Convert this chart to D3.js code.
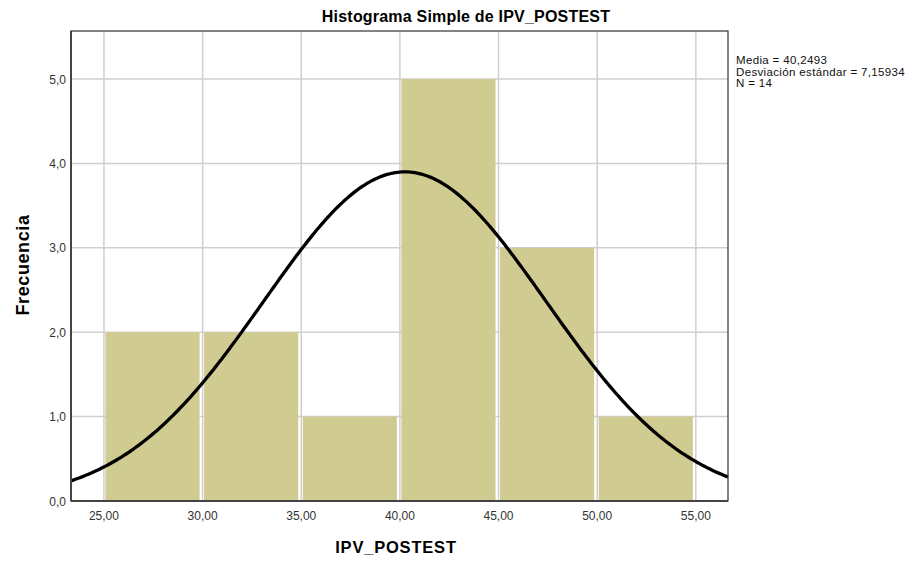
<!DOCTYPE html>
<html>
<head>
<meta charset="utf-8">
<script src="https://cdn.jsdelivr.net/npm/d3@7"></script>
<style>
  body { margin: 0; background: #fff; }
  svg text { font-family: "Liberation Sans", Arial, sans-serif; }
</style>
</head>
<body>
<svg id="chart" width="912" height="561"></svg>
<script>
// histogram bins (lower / upper edge) and counts
var binStart = [25, 30, 35, 40, 45, 50];
var binEnd = [30, 35, 40, 45, 50, 55];
var counts = [2, 2, 1, 5, 3, 1];

var xTicks = [25, 30, 35, 40, 45, 50, 55];
var yTicks = [0, 1, 2, 3, 4, 5];

// stats shown in the legend, used for the fitted normal curve
var media = 40.2493;
var desv = 7.15934;
var n = 14;
var statLines = ["Media = 40,2493", "Desviación estándar = 7,15934", "N = 14"];

var svg = d3.select("#chart");
var pLeft = 71, pRight = 728, pTop = 31, pBottom = 501;

var x = d3.scaleLinear().domain([23.33, 56.63]).range([pLeft, pRight]);
var y = d3.scaleLinear().domain([0, 5.57]).range([pBottom, pTop]);

var fmtX = function(d){ return d3.format(".2f")(d).replace(".", ","); };
var fmtY = function(d){ return d3.format(".1f")(d).replace(".", ","); };

// grid
svg.append("g").selectAll("line").data(xTicks).enter().append("line")
  .attr("x1", function(d){ return x(d); }).attr("x2", function(d){ return x(d); })
  .attr("y1", pTop).attr("y2", pBottom)
  .attr("stroke", "#cfcfcf").attr("stroke-width", 1.5);
svg.append("g").selectAll("line").data(yTicks.slice(1)).enter().append("line")
  .attr("x1", pLeft).attr("x2", pRight)
  .attr("y1", function(d){ return y(d); }).attr("y2", function(d){ return y(d); })
  .attr("stroke", "#cfcfcf").attr("stroke-width", 1.5);

// bars
svg.append("g").selectAll("rect").data(counts).enter().append("rect")
  .attr("x", function(d, i){ return x(binStart[i]) + 1.5; })
  .attr("width", function(d, i){ return x(binEnd[i]) - x(binStart[i]) - 4.5; })
  .attr("y", function(d){ return y(d); })
  .attr("height", function(d){ return y(0) - y(d); })
  .attr("fill", "#d0cb90");

// normal curve
var xs = d3.range(0, 301).map(function(i){ return 23.33 + i * (56.63 - 23.33) / 300; });
var w = binEnd[0] - binStart[0];
var dens = function(v){
  return n * w * Math.exp(-0.5 * Math.pow((v - media) / desv, 2)) / (desv * Math.sqrt(2 * Math.PI));
};
svg.append("path").datum(xs)
  .attr("d", d3.line().x(function(d){ return x(d); }).y(function(d){ return y(dens(d)); }))
  .attr("fill", "none").attr("stroke", "#000").attr("stroke-width", 3.3);

// frame
svg.append("rect").attr("x", pLeft).attr("y", pTop)
  .attr("width", pRight - pLeft).attr("height", pBottom - pTop)
  .attr("fill", "none").attr("stroke", "#333").attr("stroke-width", 1.2);
svg.append("line").attr("x1", pLeft).attr("x2", pLeft).attr("y1", pTop).attr("y2", pBottom)
  .attr("stroke", "#444").attr("stroke-width", 2);
svg.append("line").attr("x1", pLeft).attr("x2", pRight).attr("y1", pBottom).attr("y2", pBottom)
  .attr("stroke", "#444").attr("stroke-width", 2);

// tick labels
svg.append("g").selectAll("text").data(yTicks).enter().append("text")
  .attr("x", pLeft - 5).attr("y", function(d){ return y(d) + 4.5; })
  .attr("text-anchor", "end").attr("font-size", 12).attr("fill", "#333")
  .text(fmtY);
svg.append("g").selectAll("text").data(xTicks).enter().append("text")
  .attr("x", function(d){ return x(d); }).attr("y", 520)
  .attr("text-anchor", "middle").attr("font-size", 12).attr("fill", "#333")
  .text(fmtX);

// titles
svg.append("text").attr("x", 466).attr("y", 21.5).attr("text-anchor", "middle")
  .attr("font-size", 16).attr("font-weight", "bold").attr("letter-spacing", 0.2)
  .text("Histograma Simple de IPV_POSTEST");
svg.append("text").attr("x", 396).attr("y", 553).attr("text-anchor", "middle")
  .attr("font-size", 16.5).attr("font-weight", "bold").attr("letter-spacing", 0.8)
  .text("IPV_POSTEST");
svg.append("text").attr("transform", "translate(28.5,265) rotate(-90)").attr("text-anchor", "middle")
  .attr("font-size", 18).attr("font-weight", "bold").attr("letter-spacing", 0.6)
  .text("Frecuencia");

// legend stats
svg.append("g").selectAll("text").data(statLines).enter().append("text")
  .attr("x", 736).attr("y", function(d, i){ return 64 + i * 11.5; })
  .attr("font-size", 11.5).attr("letter-spacing", 0.35).attr("fill", "#111")
  .text(function(d){ return d; });
</script>
</body>
</html>
